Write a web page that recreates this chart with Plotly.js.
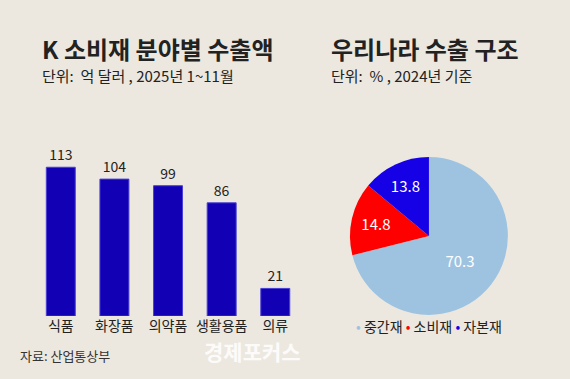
<!DOCTYPE html>
<html><head><meta charset="utf-8">
<script src="https://cdn.plot.ly/plotly-3.0.1.min.js"></script>
<style>html,body{margin:0;padding:0;background:#ECE8DF;}#chart{width:570px;height:379px;}</style>
</head><body><div id="chart"></div>
<script>
const barCategories = ['식품', '화장품', '의약품', '생활용품', '의류'];
const barValues = [113, 104, 99, 86, 21];
const pieLabels = ['중간재', '소비재', '자본재'];
const pieValues = [70.3, 14.8, 13.8];
const pieColors = ['#9DC3E1', '#FF0000', '#1600E6'];
const barColor = '#1200B4';
const FONT = '"Noto Sans CJK KR", "Noto Sans", sans-serif';

const bar = {
  type: 'bar', x: barCategories, y: barValues,
  xaxis: 'x', yaxis: 'y',
  marker: {color: barColor, line: {color: '#4a3fd6', width: 1}},
  width: 0.54,
  text: barValues.map(String), textposition: 'outside', cliponaxis: false,
  textfont: {family: FONT, size: 14, color: '#222'},
  hoverinfo: 'none', showlegend: false
};
const pie = {
  type: 'pie', labels: pieLabels, values: pieValues,
  marker: {colors: pieColors, line: {width: 0}},
  sort: false, direction: 'clockwise', rotation: 0,
  domain: {x: [0.614, 0.891], y: [0.169, 0.586]},
  textinfo: 'value', textposition: 'inside', insidetextorientation: 'horizontal',
  texttemplate: '%{value}',
  textfont: {family: FONT, size: 15, color: '#fff'},
  showlegend: false, hoverinfo: 'none'
};
const legendText = pieLabels.map((l, i) =>
  `<span style="color:${pieColors[i]}">•</span> ${l}`).join(' ');

const layout = {
  width: 570, height: 379,
  margin: {l: 0, r: 0, t: 0, b: 0},
  paper_bgcolor: '#ECE8DF', plot_bgcolor: 'rgba(0,0,0,0)',
  font: {family: FONT, color: '#222'},
  bargap: 0.46,
  xaxis: {domain: [0.0596, 0.530], anchor: 'y', showgrid: false, zeroline: false,
          showline: false, ticks: '', tickfont: {family: FONT, size: 14, color: '#222'}},
  yaxis: {domain: [0.166, 0.583], anchor: 'x', range: [0, 120], visible: false},
  annotations: [
    {text: '<b>K 소비재 분야별 수출액</b>', x: 40/570, y: 1-48/379, xref: 'paper', yref: 'paper',
     xanchor: 'left', yanchor: 'middle', showarrow: false, font: {family: FONT, size: 24, color: '#222'}},
    {text: '단위:  억 달러 , 2025년 1~11월', x: 40/570, y: 1-76/379, xref: 'paper', yref: 'paper',
     xanchor: 'left', yanchor: 'middle', showarrow: false, font: {family: FONT, size: 15, color: '#222'}},
    {text: '<b>우리나라 수출 구조</b>', x: 329/570, y: 1-48/379, xref: 'paper', yref: 'paper',
     xanchor: 'left', yanchor: 'middle', showarrow: false, font: {family: FONT, size: 24, color: '#222'}},
    {text: '단위:  % , 2024년 기준', x: 329/570, y: 1-76/379, xref: 'paper', yref: 'paper',
     xanchor: 'left', yanchor: 'middle', showarrow: false, font: {family: FONT, size: 15, color: '#222'}},
    {text: legendText, x: 429/570, y: 1-326/379, xref: 'paper', yref: 'paper',
     xanchor: 'center', yanchor: 'middle', showarrow: false, font: {family: FONT, size: 14, color: '#222'}},
    {text: '자료: 산업통상부', x: 18/570, y: 1-355/379, xref: 'paper', yref: 'paper',
     xanchor: 'left', yanchor: 'middle', showarrow: false, font: {family: FONT, size: 13, color: '#333'}},
    {text: '<b>경제포커스</b>', x: 252/570, y: 1-351/379, xref: 'paper', yref: 'paper',
     xanchor: 'center', yanchor: 'middle', showarrow: false, font: {family: FONT, size: 21, color: 'rgba(255,255,255,0.85)'}}
  ]
};
Plotly.newPlot('chart', [bar, pie], layout, {displayModeBar: false, staticPlot: true});
</script></body></html>
